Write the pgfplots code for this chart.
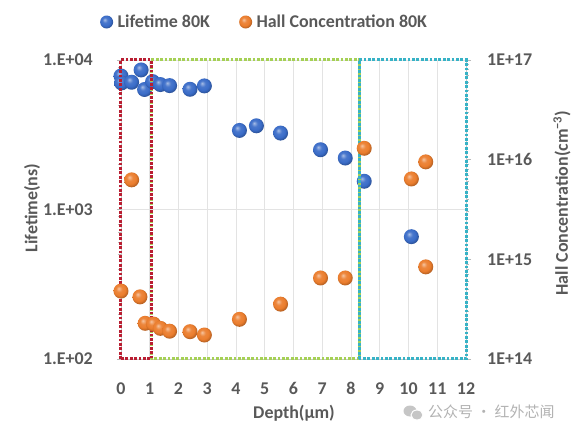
\documentclass[border=0pt]{standalone}
\usepackage{pgfplots}
\pgfplotsset{compat=1.18}
\usepackage{fontspec}
\setmainfont{Carlito}
\newfontfamily\cjk{Noto Sans CJK SC}
\definecolor{txt}{RGB}{89,89,89}
\definecolor{lblue}{RGB}{58,108,200}
\definecolor{lorange}{RGB}{235,125,45}
\definecolor{rred}{RGB}{185,30,50}
\definecolor{rgreen}{RGB}{165,208,85}
\definecolor{rcyan}{RGB}{55,178,198}
\newcommand{\tfont}{\fontsize{18}{20}\selectfont\bfseries}

\pgfdeclareradialshading{blueball}{\pgfpoint{-8bp}{9bp}}{color(0bp)=(lblue!45!white); color(10bp)=(lblue!92!white); color(20bp)=(lblue); color(27bp)=(lblue!78!black); color(50bp)=(lblue!55!black)}
\pgfdeclareradialshading{orangeball}{\pgfpoint{-8bp}{9bp}}{color(0bp)=(lorange!45!white); color(10bp)=(lorange!92!white); color(20bp)=(lorange); color(27bp)=(lorange!78!black); color(50bp)=(lorange!55!black)}
\pgfdeclareplotmark{bball}{\pgfpathcircle{\pgfpointorigin}{\pgfplotmarksize}\pgfshadepath{blueball}{0}\pgfusepath{}}
\pgfdeclareplotmark{oball}{\pgfpathcircle{\pgfpointorigin}{\pgfplotmarksize}\pgfshadepath{orangeball}{0}\pgfusepath{}}

\pgfplotstableread{
x y
0.00 7820
0.02 7030
0.37 7100
0.70 8580
0.82 6350
1.10 7170
1.37 6850
1.69 6740
2.40 6370
2.90 6710
4.12 3380
4.71 3630
5.55 3245
6.94 2510
7.80 2210
8.46 1545
10.10 658
}\lifetime

\pgfplotstableread{
x y
0.37 6.27e15
0.00 4.8e14
0.66 4.2e14
0.84 2.28e14
1.13 2.24e14
1.37 2.03e14
1.69 1.9e14
2.40 1.88e14
2.90 1.74e14
4.12 2.5e14
5.55 3.55e14
6.94 6.5e14
7.80 6.5e14
8.46 1.3e16
10.10 6.4e15
10.60 9.5e15
10.60 8.4e14
}\hall

\begin{document}
\begin{tikzpicture}
\useasboundingbox (-121bp,-77bp) rectangle (458bp,359bp);
\begin{axis}[
  scale only axis, width=345bp, height=299bp,
  xmin=0, xmax=12, ymode=log, ymin=100, ymax=10000,
  axis x line*=bottom, axis y line*=left,
  xtick={0,1,2,3,4,5,6,7,8,9,10,11,12},
  xticklabels={0,1,2,3,4,5,6,7,8,9,10,11,12},
  ytick={100,1000,10000},
  yticklabels={1.E+02,1.E+03,1.E+04},
  grid=major, grid style={gray!22, line width=0.8bp},
  axis line style={gray!45, line width=0.8bp},
  tick align=outside, major tick length=4bp, minor tick length=3bp,
  tick style={gray!55, line width=0.6bp},
  xtick style={draw=none},
  clip=false,
  xticklabel style={font=\tfont, text=txt, anchor=base, inner sep=0pt, yshift=-32bp},
  yticklabel style={font=\tfont, text=txt, anchor=east, inner sep=0pt, xshift=-24bp},
]
\addplot[only marks, mark=bball, mark size=7.5bp] table {\lifetime};
\end{axis}
\begin{axis}[
  scale only axis, width=345bp, height=299bp,
  xmin=0, xmax=12, ymode=log, ymin=1e14, ymax=1e17,
  axis x line=none, axis y line*=right,
  ytick={1e14,1e15,1e16,1e17},
  yticklabels={1E+14,1E+15,1E+16,1E+17},
  minor ytick={}, 
  clip=false,
  axis line style={gray!45, line width=0.8bp},
  tick align=outside, major tick length=5bp,
  tick style={gray!55, line width=0.6bp},
  yticklabel style={font=\tfont, text=txt, anchor=west, inner sep=0pt, xshift=16bp},
  legend style={at={(axis description cs:-0.061,1.127)}, anchor=west, draw=none, fill=none,
    font=\tfont, text=txt, legend columns=2, inner sep=0pt,
    nodes={inner sep=2.2bp},
    /tikz/every even column/.append style={column sep=27bp}},
  legend image code/.code={\draw[#1, mark size=6.5bp] plot coordinates {(6bp,0bp)}; \path (0bp,0bp) (14.5bp,0bp);},
]
\addlegendimage{only marks, mark=bball}
\addlegendentry{Lifetime 80K}
\addplot[only marks, mark=oball, mark size=7.5bp] table {\hall};
\addlegendentry{Hall Concentration 80K}
\draw[rgreen, line width=3bp, dash pattern=on 2.8bp off 1.6bp] (axis cs:1.05,1e14) rectangle (axis cs:8.28,1e17);
\draw[rred, line width=3bp, dash pattern=on 2.8bp off 1.6bp] (axis cs:0,1e14) rectangle (axis cs:1.05,1e17);
\draw[rcyan, line width=3bp, dash pattern=on 2.8bp off 1.6bp] (axis cs:8.28,1e14) rectangle (axis cs:12,1e17);
\end{axis}
\node[font=\tfont, text=txt] at (173bp,-54bp) {Depth(μm)};
\node[font=\tfont, text=txt, rotate=90] at (-89bp,151bp) {Lifetime(ns)};
\node[font=\tfont, text=txt, rotate=90] at (441bp,156bp) {Hall Concentration(cm\textsuperscript{−3})};
\fill[gray!45] (289bp,-52bp) ellipse (6.5bp and 5.5bp);
\fill[gray!45, draw=white, line width=1bp] (296bp,-56bp) ellipse (6bp and 5bp);
\node[anchor=west, font=\cjk\fontsize{15}{17}\selectfont, text=gray!60, inner sep=0pt] at (307bp,-53bp) {公众号 · 红外芯闻};
\end{tikzpicture}
\end{document}
